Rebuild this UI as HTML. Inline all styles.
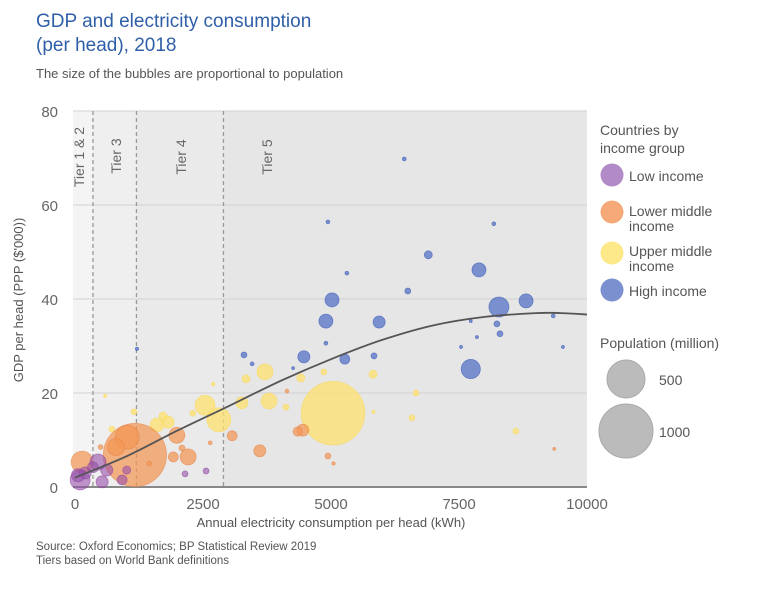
<!DOCTYPE html>
<html><head><meta charset="utf-8">
<style>
html,body{margin:0;padding:0;background:#fff;}
body{width:764px;height:586px;overflow:hidden;font-family:"Liberation Sans",sans-serif;}
svg text{font-family:"Liberation Sans",sans-serif;}
</style></head>
<body>
<svg id="chart" width="764" height="586" viewBox="0 0 764 586">
<text x="36" y="27" font-size="19" fill="#2f5fa8">GDP and electricity consumption</text>
<text x="36" y="51" font-size="19" fill="#2f5fa8">(per head), 2018</text>
<text x="36" y="78" font-size="13" fill="#555">The size of the bubbles are proportional to population</text>
<g id="plot"></g>
<text x="36" y="550" font-size="11.5" fill="#555">Source: Oxford Economics; BP Statistical Review 2019</text>
<text x="36" y="564" font-size="11.5" fill="#555">Tiers based on World Bank definitions</text>
<g>
<text x="600" y="135" font-size="14" fill="#555">Countries by</text>
<text x="600" y="153" font-size="14" fill="#555">income group</text>
<circle cx="612" cy="175" r="11.5" fill="#b38ac8"/>
<text x="629" y="181" font-size="14" fill="#555">Low income</text>
<circle cx="612" cy="212" r="11.5" fill="#f5a878"/>
<text x="629" y="216" font-size="14" fill="#555">Lower middle</text>
<text x="629" y="231" font-size="14" fill="#555">income</text>
<circle cx="612" cy="253" r="11.5" fill="#fde98a"/>
<text x="629" y="256" font-size="14" fill="#555">Upper middle</text>
<text x="629" y="271" font-size="14" fill="#555">income</text>
<circle cx="612" cy="290" r="11.5" fill="#7a90cf"/>
<text x="629" y="296" font-size="14" fill="#555">High income</text>
<text x="600" y="348" font-size="14" fill="#555">Population (million)</text>
<circle cx="626" cy="379" r="19" fill="#bbb" stroke="#aaa"/>
<text x="659" y="385" font-size="14" fill="#555">500</text>
<circle cx="626" cy="431" r="27" fill="#bbb" stroke="#aaa"/>
<text x="659" y="437" font-size="14" fill="#555">1000</text>
</g>
</svg>
<script>
const xTicks=[0,2500,5000,7500,10000];
const yTicks=[0,20,40,60,80];
const tierBounds=[0,350,1200,2900,10000];
const tierNames=["Tier 1 & 2","Tier 3","Tier 4","Tier 5"];
const lowIncome=[[100,1.5,137],[450,5.3,88],[620,3.6,50],[1010,3.6,22],[920,1.5,34],[2150,2.8,12],[2560,3.4,12],[530,1.1,50],[200,3,50],[60,2.5,60],[350,4.2,40]];
const lowerMiddle=[[1170,6.8,1370],[140,5.3,166],[1020,10.6,198],[1990,11,88],[2210,6.4,88],[1920,6.4,34],[2090,8.3,12],[3070,10.9,34],[3610,7.7,50],[4450,12.1,50],[4350,11.8,30],[4940,6.6,12],[4140,20.4,5],[2640,9.4,5],[1450,5,8],[500,8.5,8],[9360,8.1,3],[5050,5,4],[800,8.5,100]];
const upperMiddle=[[5040,15.7,1390],[4410,23.2,22],[4860,24.5,12],[5820,24,22],[4120,17,12],[6660,20,12],[6580,14.7,12],[8610,11.9,12],[5830,16,4],[3710,24.5,88],[3340,23,22],[3790,18.3,88],[3260,17.9,50],[2540,17.4,137],[2810,14.3,198],[1600,13.2,67],[1820,13.8,50],[1720,15.1,22],[720,12.3,12],[1150,16,12],[590,19.4,4],[2700,21.9,5],[2300,15.7,12]];
const highIncome=[[6430,69.8,5],[4940,56.4,5],[8180,56,5],[6900,49.4,22],[7890,46.2,67],[5310,45.5,5],[6500,41.7,12],[5020,39.8,67],[8810,39.6,67],[8280,38.3,137],[4900,35.3,67],[5940,35.1,50],[9340,36.4,5],[7730,35.3,3],[8240,34.7,12],[8300,32.6,12],[7850,31.9,3],[4900,30.6,5],[4470,27.7,50],[5270,27.2,34],[5840,27.9,12],[7540,29.8,2],[9530,29.8,2],[4260,25.3,3],[7730,25.1,126],[3300,28.1,12],[3460,26.2,5],[1210,29.4,4]];
const trendX=[0,1000,2000,3000,4000,5000,6000,7000,8000,9000,9500,10000];
const trendY=[2,6.5,12,17.2,22.5,27.2,31.3,34.4,36.2,37,37,36.7];

const NS="http://www.w3.org/2000/svg";
const plot=document.getElementById('plot');
const X0=75,X1=587,Y0=487,Y1=111;
function sx(v){return X0+(v-0)/(10000)*(X1-X0);}
function sy(v){return Y0-v/80*(Y0-Y1);}
function sr(p){return 27*Math.sqrt(p/1000);}
function mk(tag,attrs){const e=document.createElementNS(NS,tag);for(const k in attrs)e.setAttribute(k,attrs[k]);plot.appendChild(e);return e;}
const shades=["#f4f4f4","#efefef","#eaeaea","#e6e6e6"];
for(let i=0;i<4;i++){
 const r=mk('rect',{x:(i==0?73:sx(tierBounds[i])),y:Y1,width:sx(tierBounds[i+1])-(i==0?73:sx(tierBounds[i])),height:Y0-Y1,fill:shades[i]});
 
 
}
yTicks.forEach(t=>{
 const l=mk('line',{x1:73,x2:X1,y1:sy(t),y2:sy(t),stroke:t==0?'#888':'#d2d2d2','stroke-width':t==0?2:1});
 
 
 const tx=mk('text',{x:58,y:sy(t)+6,'font-size':15,fill:'#666','text-anchor':'end'});tx.textContent=t;
 
 
});
xTicks.forEach(t=>{
 const tx=mk('text',{x:sx(t),y:509,'font-size':15,fill:'#666','text-anchor':'middle'});tx.textContent=t;
 
 
});
for(let i=1;i<4;i++){
 const l=mk('line',{x1:sx(tierBounds[i]),x2:sx(tierBounds[i]),y1:Y1,y2:Y0,stroke:'#999','stroke-dasharray':'4,3','stroke-width':1.3});
 
 
}
tierNames.forEach((n,i)=>{
 const x=[79,116,181,267][i];
 const y=[157,156,157,157][i];
 const t=mk('text',{x:x,y:y,'font-size':14,fill:'#666','text-anchor':'middle',transform:`rotate(-90 ${x} ${y})`});
 t.setAttribute('dy','5');t.textContent=n;
 
 
});
function series(arr,fill,stroke,name){
 arr.forEach(d=>{
  const c=mk('circle',{cx:sx(d[0]),cy:sy(d[1]),r:Math.max(1.5,sr(d[2])),fill:fill,stroke:stroke,'stroke-width':0.8});
  
  
 });
}
series(upperMiddle,'rgba(254,226,110,0.75)','rgba(250,215,90,0.6)','bubble-upper-middle');
series(lowerMiddle,'rgba(242,150,85,0.72)','rgba(230,130,70,0.6)','bubble-lower-middle');
series(lowIncome,'rgba(150,80,170,0.6)','rgba(140,70,160,0.6)','bubble-low-income');
series(highIncome,'rgba(80,110,195,0.72)','rgba(70,100,185,0.7)','bubble-high-income');
const pts=trendX.map((v,i)=>[sx(v),sy(trendY[i])]);
let d='M'+pts[0][0]+' '+pts[0][1];
for(let i=0;i<pts.length-1;i++){
 const p0=pts[Math.max(0,i-1)],p1=pts[i],p2=pts[i+1],p3=pts[Math.min(pts.length-1,i+2)];
 const c1=[p1[0]+(p2[0]-p0[0])/6,p1[1]+(p2[1]-p0[1])/6];
 const c2=[p2[0]-(p3[0]-p1[0])/6,p2[1]-(p3[1]-p1[1])/6];
 d+=`C${c1[0]} ${c1[1]} ${c2[0]} ${c2[1]} ${p2[0]} ${p2[1]}`;
}
const tl=mk('path',{d:d,fill:'none',stroke:'#555','stroke-width':1.8});


const xt=mk('text',{x:331,y:527,'font-size':13,fill:'#555','text-anchor':'middle'});xt.textContent='Annual electricity consumption per head (kWh)';


const yt=mk('text',{x:23,y:300,'font-size':13,fill:'#555','text-anchor':'middle',transform:'rotate(-90 23 300)'});yt.textContent="GDP per head (PPP ($'000))";


</script>
</body></html>
